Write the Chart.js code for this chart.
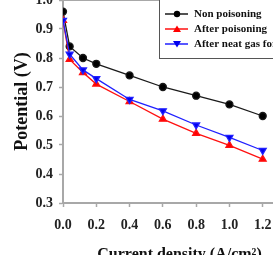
<!DOCTYPE html>
<html><head><meta charset="utf-8">
<script src="https://cdn.jsdelivr.net/npm/chart.js@4/dist/chart.umd.min.js"></script>
<style>
html,body{margin:0;padding:0;width:273px;height:255px;overflow:hidden;background:#fff;}
#wrap{position:absolute;left:-40px;top:-20px;width:360px;height:290px;}
</style></head>
<body><div id="wrap"><canvas id="c" width="360" height="290"></canvas></div>
<script>
const currentDensity = [0, 0.04, 0.12, 0.2, 0.4, 0.6, 0.8, 1.0, 1.2];
const nonPoisoning = [0.96, 0.84, 0.80, 0.78, 0.74, 0.70, 0.67, 0.64, 0.60];
const afterPoisoning = [0.93, 0.795, 0.75, 0.71, 0.65, 0.589, 0.54, 0.499, 0.451];
const afterNeatGas = [0.93, 0.813, 0.759, 0.729, 0.657, 0.618, 0.569, 0.526, 0.481];
const seriesNames = ["Non poisoning", "After poisoning", "After neat gas for"];
const xTickValues = [0, 0.2, 0.4, 0.6, 0.8, 1.0, 1.2, 1.4];
const yTickValues = [0.3, 0.4, 0.5, 0.6, 0.7, 0.8, 0.9, 1.0];

const toPts = ys => ys.map((y, i) => ({x: currentDensity[i], y}));
const serif = "'Liberation Serif','Times New Roman',serif";

const legendPlugin = {
  id: 'customLegend',
  afterDraw(chart) {
    const ctx = chart.ctx;
    const bx = 199, by = 14, bw = 140, bh = 64;
    ctx.save();
    ctx.fillStyle = '#fff';
    ctx.fillRect(bx, by, bw, bh);
    ctx.strokeStyle = '#555';
    ctx.lineWidth = 1;
    ctx.strokeRect(bx + 0.5, by + 0.5, bw, bh);
    const order = [0, 1, 2];
    const ys = [34, 49, 64];
    order.forEach((di, k) => {
      const ds = chart.data.datasets[di];
      const y = ys[k];
      ctx.strokeStyle = ds.borderColor;
      ctx.lineWidth = 1.5;
      ctx.beginPath(); ctx.moveTo(205, y); ctx.lineTo(228, y); ctx.stroke();
      ctx.fillStyle = ds.backgroundColor;
      ctx.beginPath();
      if (ds.pointStyle === 'circle') {
        ctx.arc(217, y, 3.2, 0, Math.PI * 2);
      } else if (ds.pointRotation === 180) {
        ctx.moveTo(213, y - 3); ctx.lineTo(221, y - 3); ctx.lineTo(217, y + 3.5);
      } else {
        ctx.moveTo(213, y + 3); ctx.lineTo(221, y + 3); ctx.lineTo(217, y - 3.5);
      }
      ctx.closePath(); ctx.fill();
      ctx.fillStyle = '#111';
      ctx.font = "bold 11px " + serif;
      ctx.textBaseline = 'middle';
      ctx.textAlign = 'left';
      ctx.fillText(ds.label, 234, y);
    });
    ctx.restore();
  }
};

const framePlugin = {
  id: 'frame',
  beforeDatasetsDraw(chart) {
    const {ctx, chartArea: a} = chart;
    ctx.save();
    ctx.strokeStyle = '#a8a8a8';
    ctx.lineWidth = 2;
    ctx.beginPath();
    ctx.moveTo(a.left, a.top); ctx.lineTo(a.right, a.top);
    ctx.moveTo(a.right, a.top); ctx.lineTo(a.right, a.bottom);
    ctx.stroke();
    ctx.restore();
  }
};

new Chart(document.getElementById('c'), {
  type: 'line',
  data: {
    datasets: [
      {label: seriesNames[0], data: toPts(nonPoisoning), borderColor: '#1a1a1a', backgroundColor: '#000',
       pointStyle: 'circle', pointRadius: 3.5, borderWidth: 1.3, order: 2},
      {label: seriesNames[1], data: toPts(afterPoisoning), borderColor: '#ff1010', backgroundColor: '#ff0000',
       pointStyle: 'triangle', pointRadius: 4, borderWidth: 1.3, order: 1},
      {label: seriesNames[2], data: toPts(afterNeatGas), borderColor: '#2020ff', backgroundColor: '#0000ee',
       pointStyle: 'triangle', pointRotation: 180, pointRadius: 4, borderWidth: 1.3, order: 0}
    ]
  },
  options: {
    responsive: false,
    animation: false,
    events: [],
    layout: {padding: {left: 0, right: 24, top: 20, bottom: 0}},
    plugins: {legend: {display: false}, tooltip: {enabled: false}},
    elements: {line: {tension: 0}, point: {borderWidth: 0}},
    scales: {
      x: {
        type: 'linear', min: 0, max: 1.4,
        afterBuildTicks: s => { s.ticks = xTickValues.map(v => ({value: v})); },
        afterFit: s => { s.height = 67; },
        grid: {drawOnChartArea: false, color: '#a8a8a8', tickLength: 4, tickWidth: 1.5},
        border: {color: '#a8a8a8', width: 2},
        ticks: {padding: 10, color: '#222', font: {family: serif, size: 14, weight: 'bold'},
                callback: v => Number(v).toFixed(1), maxRotation: 0, autoSkip: false},
        title: {display: true, text: 'Current density (A/cm²)', color: '#111',
                font: {family: serif, size: 16, weight: 'bold', lineHeight: 1}, padding: {top: 0, bottom: 7}}
      },
      y: {
        type: 'linear', min: 0.3, max: 1.0,
        afterBuildTicks: s => { s.ticks = yTickValues.map(v => ({value: v})); },
        afterFit: s => { s.width = 103; },
        grid: {drawOnChartArea: false, color: '#a8a8a8', tickLength: 4, tickWidth: 1.5},
        border: {color: '#a8a8a8', width: 2},
        ticks: {padding: 6, color: '#222', font: {family: serif, size: 14, weight: 'bold'},
                callback: v => Number(v).toFixed(1), autoSkip: false},
        title: {display: true, text: 'Potential (V)', color: '#111',
                font: {family: serif, size: 18, weight: 'bold', lineHeight: 1}, padding: {top: 53, bottom: 0}}
      }
    }
  },
  plugins: [framePlugin, legendPlugin]
});
</script></body></html>
